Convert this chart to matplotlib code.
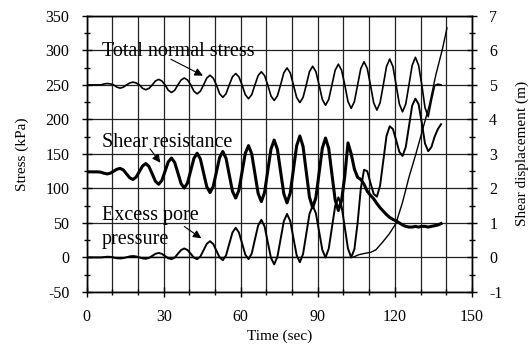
import numpy as np
import matplotlib
matplotlib.use("Agg")
import matplotlib.pyplot as plt
from matplotlib.ticker import MultipleLocator

plt.rcParams["font.family"] = ["Liberation Serif", "DejaVu Serif"]
plt.rcParams["axes.unicode_minus"] = False

# sample times (sec): 0, then every 1.25 s from 0.5 to 138
time_s = [0.0] + list(np.arange(0.5, 138.1, 1.25))

# total normal stress (kPa)
total_normal = [
    250, 250, 250, 250, 250, 250, 251.4, 252, 251.4, 250, 246.7, 245.3, 246.7,
    250, 252.8, 254, 252.8, 250, 245, 243, 245, 250, 255.7, 258, 255.7,
    250, 242.2, 239, 242.2, 250, 257.1, 260, 257.1, 250, 240.8, 237, 240.8,
    250, 259.9, 264, 259.9, 250, 237.2, 232, 237.2, 250, 261.7, 266.5, 261.7,
    250, 235.8, 230, 235.8, 250, 263.5, 269, 263.5, 250, 234, 227.4, 234,
    250, 267.5, 274.6, 267.5, 250, 231.8, 224.4, 231.8, 250, 269.2, 277, 269.2,
    250, 229, 220.4, 229, 250, 271.3, 280, 271.3, 250, 225.9, 216, 225.9,
    250, 273.8, 283.5, 273.8, 250, 224.1, 213.5, 224.1, 250, 276.6, 287.4, 276.6,
    250, 222.3, 211, 222.3, 250, 278.4, 290, 278.4, 250, 217, 204, 228,
    249, 251, 250,
]

# shear resistance (kPa)
shear_res = [
    124, 124, 124, 124, 124, 123.5, 122, 121, 122.2, 125, 127.8, 129, 126.7,
    121, 115.3, 113, 116.4, 124.5, 132.6, 136, 131.6, 121, 110.4, 106, 111.5,
    125, 138.5, 144, 137.6, 122.3, 106.9, 100.5, 107.9, 125.8, 143.6, 151, 142.7,
    122.5, 102.3, 94, 102.7, 123.8, 144.8, 153.5, 143.6, 119.8, 95.9, 86, 97.1,
    124, 150.9, 162, 150.2, 121.5, 92.8, 81, 94, 125.5, 157, 170, 156.7,
    124.5, 92.3, 79, 93.2, 127.5, 161.8, 176, 160.8, 124, 87.2, 72, 86.7,
    122.5, 158.3, 173, 157.7, 120.5, 83.3, 68, 82.6, 118, 166, 150, 128,
    116, 113, 106, 96, 90, 85, 78, 72, 67, 62, 58, 55,
    53, 50, 47, 45, 44, 44, 45, 44, 45, 45, 44, 45,
    46, 47, 49,
]

# excess pore pressure (kPa)
pore_press = [
    0, 0, 0, 0, 0, 0, 0.5, 1, 0.8, -0.2, -1.2, -1.5, -1.0,
    0.2, 1.5, 2, 1.4, 0, -1.4, -2, -0.7, 2.2, 5.2, 6.5, 5.2,
    2, -1.2, -2.5, -0.3, 5.3, 10.7, 13, 10.7, 5.3, -0.3, -2.5, 1.3,
    10.5, 19.7, 23.5, 19.5, 9.8, 0, -4, 2.9, 19.5, 36.1, 43, 36.3,
    20.3, 4.1, -2.5, 5.5, 26, 46.2, 54.5, 45.1, 22.3, -0.6, -10, 0.7,
    26.5, 52.3, 63, 52.8, 28, 3.2, -7, 5, 34, 62.9, 75, 64,
    37.5, 11, 0, 12.7, 43.5, 74.3, 87, 74.3, 43.5, 12.7, 0, 12,
    50, 100, 127, 125, 108, 92, 88, 104, 140, 176, 190, 186,
    170, 153, 147, 160, 190, 220, 230, 222, 195, 165, 154, 160,
    175, 186, 193,
]

# shear displacement (m), own time base
disp_t = [0, 103.5, 106, 108.5, 110.7, 112.6, 115.2, 117.8, 120.4, 123,
          125.6, 128.2, 130.8, 133.4, 136, 138.6, 140.3]
disp_m = [0, 0, 0.08, 0.12, 0.15, 0.22, 0.44, 0.68, 0.98, 1.6,
          2.35, 3.0, 3.7, 4.4, 5.3, 6.06, 6.65]

fig = plt.figure(figsize=(5.29, 3.53), dpi=100)
ax = fig.add_axes([0.164, 0.173, 0.728, 0.782])

ax.plot(time_s, total_normal, color="k", lw=1.2, zorder=3)
ax.plot(time_s, shear_res, color="k", lw=2.2, zorder=3)
ax.plot(time_s, pore_press, color="k", lw=1.4, zorder=3)

ax2 = ax.twinx()
ax2.plot(disp_t, disp_m, color="k", lw=1.0)

ax.set_xlim(0, 150)
ax.set_ylim(-50, 350)
ax2.set_ylim(-1, 7)

ax.xaxis.set_major_locator(MultipleLocator(30))
ax.xaxis.set_minor_locator(MultipleLocator(10))
ax.yaxis.set_major_locator(MultipleLocator(50))
ax.yaxis.set_minor_locator(MultipleLocator(25))
ax2.yaxis.set_major_locator(MultipleLocator(1))
ax2.yaxis.set_minor_locator(MultipleLocator(0.5))

ax.grid(axis="x", which="both", color="#222222", lw=0.9)
ax.grid(axis="y", which="major", color="#222222", lw=0.9)
ax.set_axisbelow(True)

for a in (ax, ax2):
    a.tick_params(which="major", direction="inout", length=7, width=1,
                  labelsize=11.5, colors="k", pad=9)
    a.tick_params(which="minor", direction="inout", length=5, width=1)
    for sp in a.spines.values():
        sp.set_linewidth(1.0)
        sp.set_color("k")

ax.set_xlabel("Time (sec)", fontsize=11, labelpad=3)
ax.set_ylabel("Stress (kPa)", fontsize=11, labelpad=12)
ax2.set_ylabel("Shear displacement (m)", fontsize=11, labelpad=9)

ax.text(5.9, 298, "Total normal stress", fontsize=14.5, va="center", ha="left")
ax.text(5.9, 167, "Shear resistance", fontsize=14.5, va="center", ha="left")
ax.text(5.9, 61, "Excess pore", fontsize=14.5, va="center", ha="left")
ax.text(5.9, 26, "pressure", fontsize=14.5, va="center", ha="left")

arrow = dict(arrowstyle="-|>", color="k", lw=0.8, mutation_scale=12)
ax.annotate("", xy=(46.2, 261.6), xytext=(31.8, 289), arrowprops=arrow)
ax.annotate("", xy=(29.3, 134), xytext=(24, 160.6), arrowprops=arrow)
ax.annotate("", xy=(45.5, 25.4), xytext=(37.1, 47.1), arrowprops=arrow)

plt.savefig("out.png", dpi=100)
plt.close(fig)
